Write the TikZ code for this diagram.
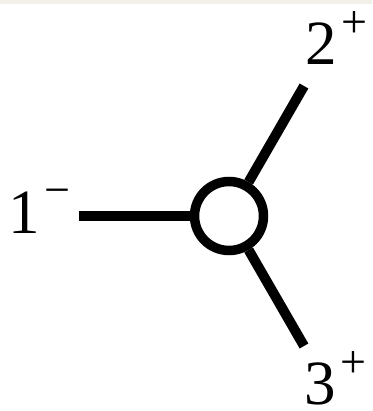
\documentclass[tikz,border=0pt]{standalone}
\usepackage{fontspec}
\setmainfont{Liberation Serif}
\definecolor{paper}{HTML}{F3EFE9}
\newcommand\chg[2]{#1\kern5pt\raisebox{27pt}{\fontsize{46}{46}\selectfont #2}}

\begin{document}
\begin{tikzpicture}[
  x=1pt, y=-1pt,
  vertex/.style={
    draw=black, circle, line width=9.5pt,
    minimum size=69pt, inner sep=0pt, fill=white
  },
  leg/.style={draw=black, line width=10pt},
  charge/.style={inner sep=0pt, anchor=base west, font=\fontsize{63}{70}\selectfont},
]

\useasboundingbox (0,0) rectangle (372,411);
\fill[paper] (0,0) rectangle (372,4);

%% ====================================================================
%%  VERTEX AND LEG ENDS
%% ====================================================================
\node[vertex] (hub) at (229,216) {};

\coordinate (end1) at (79,216);
\coordinate (end2) at (304,86);
\coordinate (end3) at (304,346);

\draw[leg] (hub) -- (end1);
\draw[leg] (hub) -- (end2);
\draw[leg] (hub) -- (end3);

%% ====================================================================
%%  LABELS
%% ====================================================================
\node[charge] (lab1) at (8,233) {\chg{1}{−}};
\node[charge] (lab2) at (305,65) {\chg{2}{+}};
\node[charge] (lab3) at (304,404) {\chg{3}{+}};

\end{tikzpicture}
\end{document}
